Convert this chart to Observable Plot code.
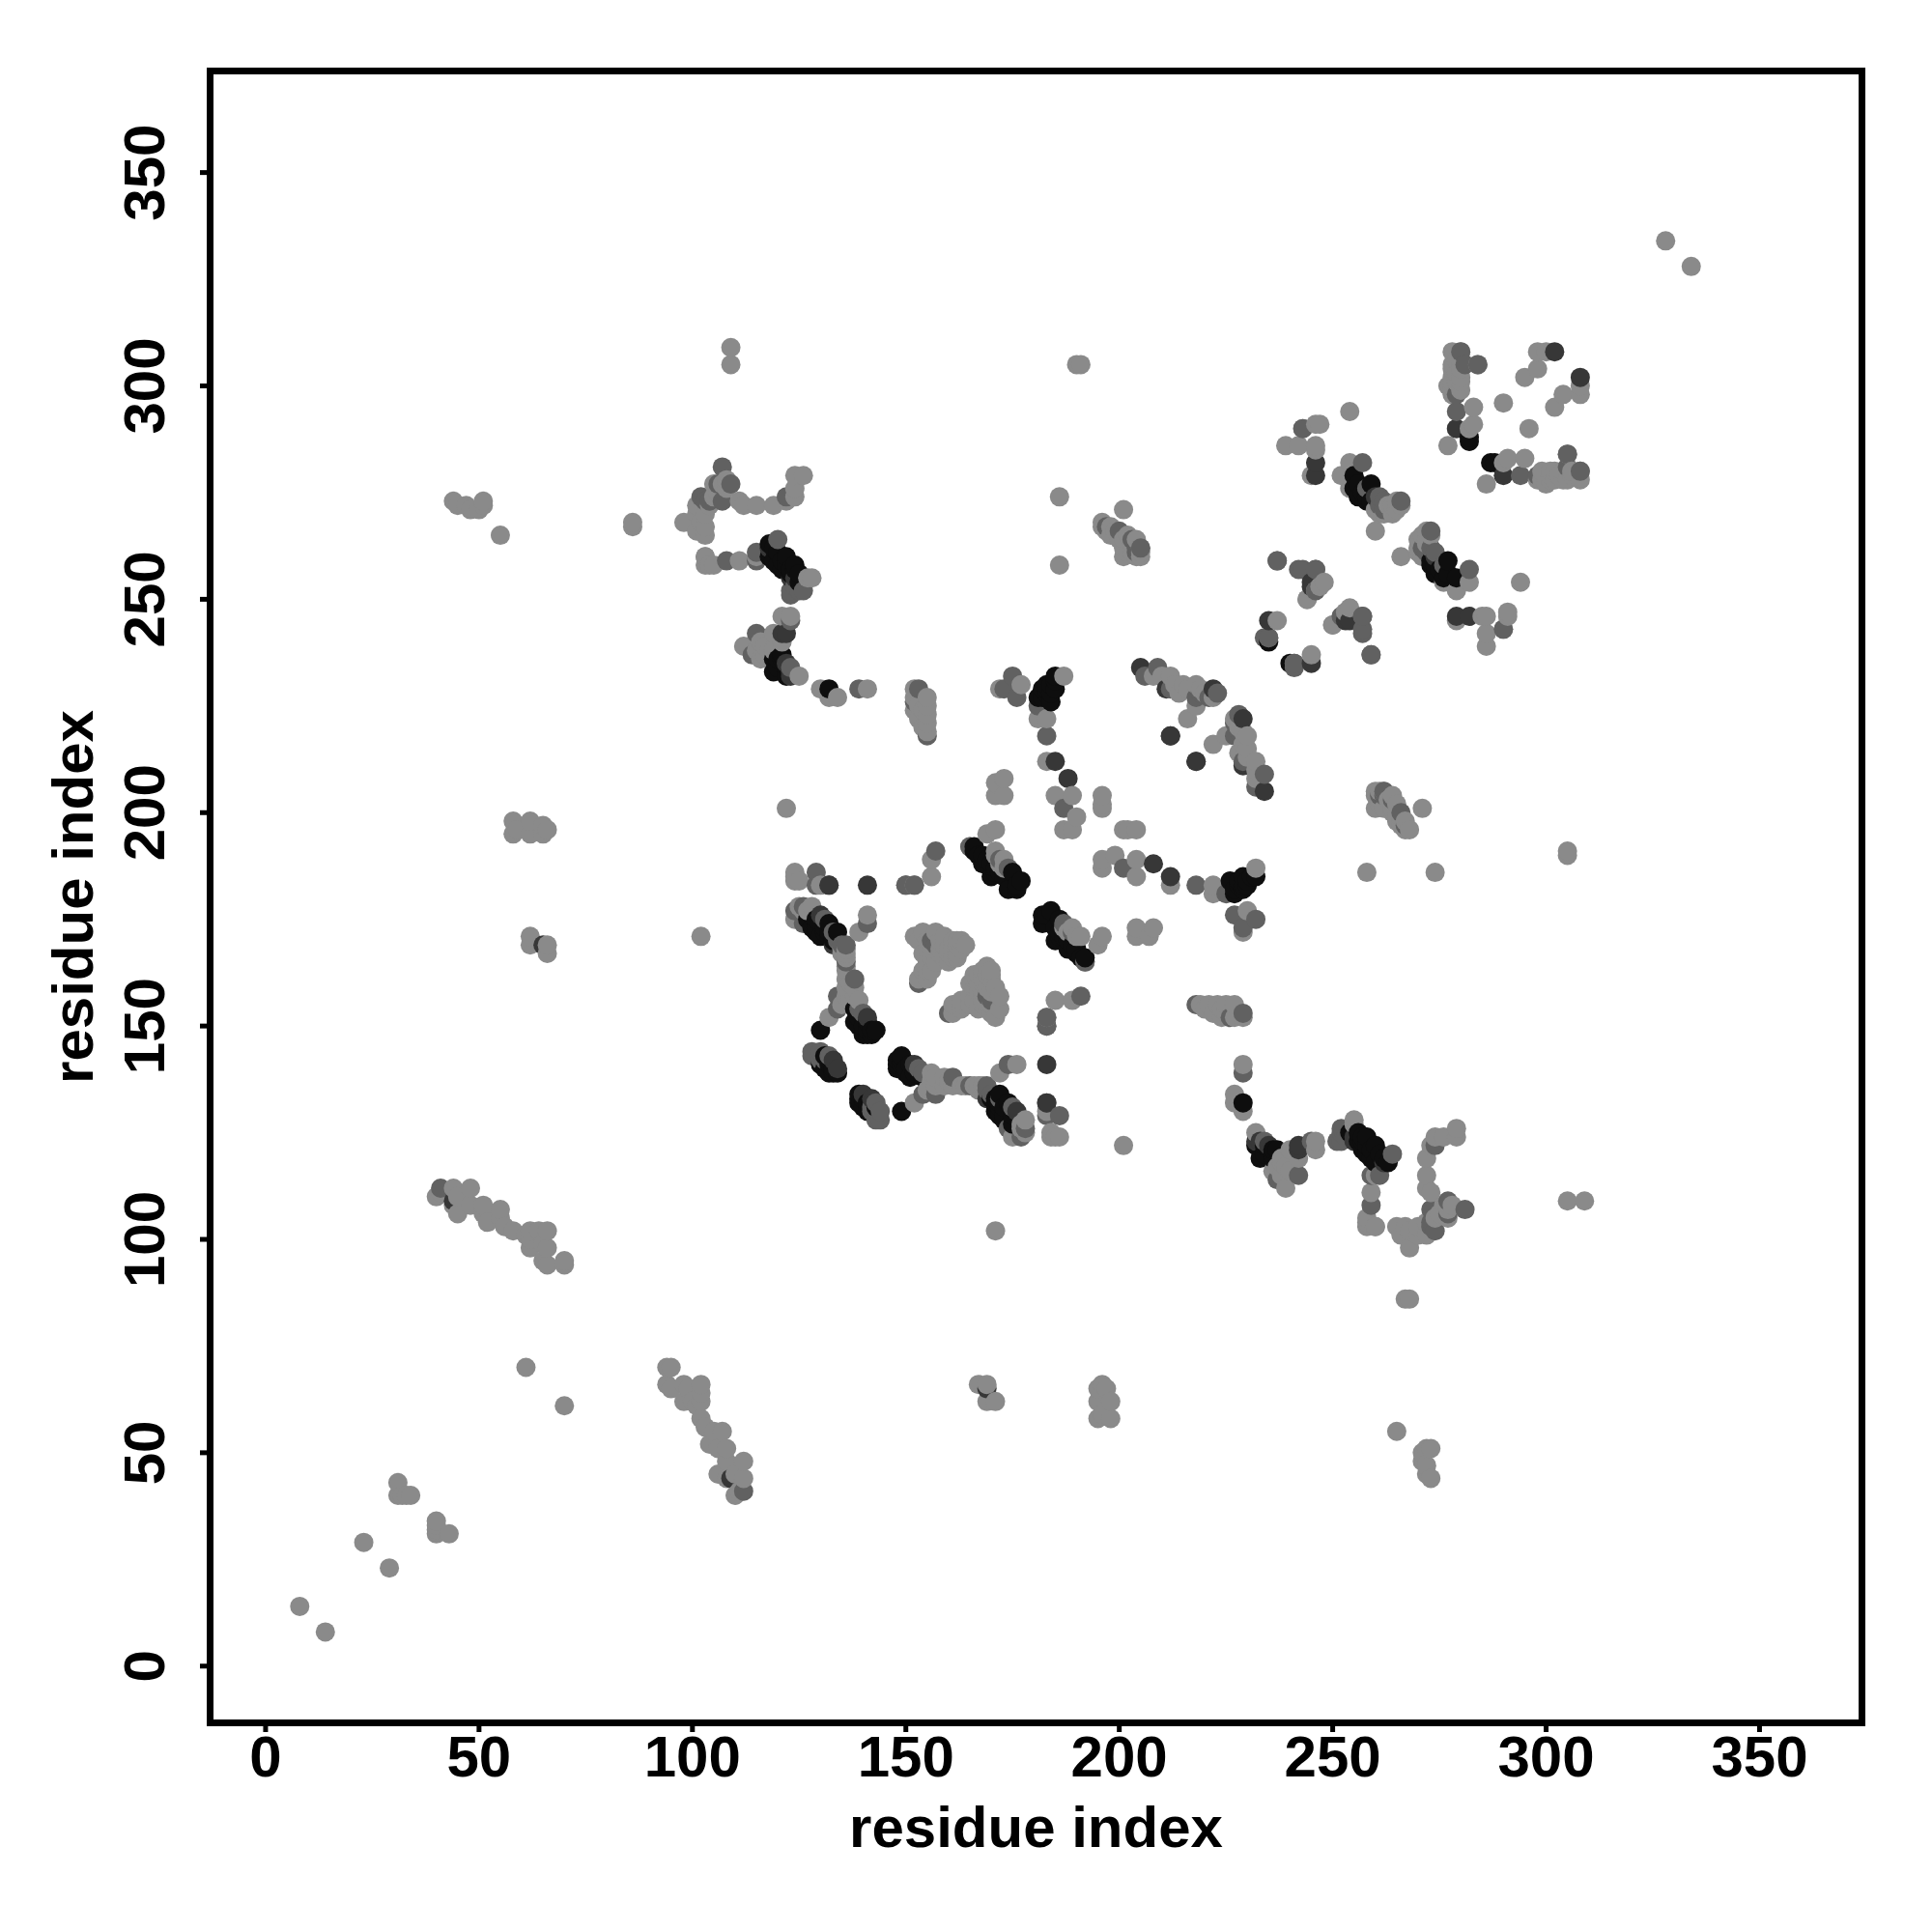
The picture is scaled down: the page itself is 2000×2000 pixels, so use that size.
<!DOCTYPE html>
<html>
<head>
<meta charset="utf-8">
<style>html,body{margin:0;padding:0;background:#fff}svg{display:block}</style>
<script src="https://cdn.jsdelivr.net/npm/d3@7"></script>
<script src="https://cdn.jsdelivr.net/npm/@observablehq/plot@0.6"></script>
</head>
<body>
<div id="chart"></div>
<script>
const axisTicks = [0, 50, 100, 150, 200, 250, 300, 350];
const axisLabel = "residue index";

// Contact pairs (a < b); a contact map holds each pair both ways.
const lightPairs = [
 [8,14],[23,29],[31,43],[31,40],[32,40],[33,40],[34,40],[61,70],[94,70],[95,70],[94,66],[95,65],[98,66],[99,65],[100,62],[98,62],[102,66],[102,64],[102,62],[101,61],[102,58],[103,56],[105,55],[107,55],[104,52],[106,51],[108,51],[108,48],[106,45],[108,44],[112,48],[110,45],[112,44],[110,40],[111,41],
 [44,273],[45,272],[47,272],[48,271],[50,271],[51,273],[51,272],[55,265],[58,198],[58,195],[59,196],[62,198],[62,195],[65,197],[65,195],[66,196],[62,171],[62,169],[66,167],[66,169],
 [86,267],[86,268],[102,171],[109,305],[109,309],[122,201],[328,334],[186,274],[186,258],[190,305],[191,305],
 [108,278],[105,277],[101,272],[101,270],[103,267],[98,268],[101,266],[103,265],[111,273],[115,272],[119,272],[122,273],[124,276],[124,279],[126,279],[103,260],[103,258],[105,258],[111,259],[115,260],[128,255],
 [103,270],[104,272],[105,274],[106,275],[107,277],[108,276],
 [121,246],[112,239],[117,239],[119,242],[116,236],[125,232],[130,229],[132,227],[134,227],[141,229],[152,229],[155,227],[155,223],[155,221],[153,222],[116,240],[118,238],[117,237],[115,238],
 [152,227],[153,225],[154,224],[155,225],[155,219],[152,224],[154,220],
 [172,229],[177,230],[181,222],[183,222],[183,212],[185,204],[189,204],[190,199],[187,196],[189,196],[196,204],[196,202],[171,207],[173,208],[171,204],[173,204],[187,232],[208,232],[212,232],[215,230],[214,228],[218,230],[218,225],[216,222],
 [210,232],[213,230],[216,229],[219,229],[220,228],[222,227],
 [169,195],[165,192],[171,191],[173,189],[124,186],[125,184],[130,183],[156,189],[156,185],[152,183],[128,178],[141,176],[139,172],[136,166],[136,164],[136,161],[138,159],[136,157],[139,156],[132,152],
 [135,167],[136,163],[136,159],[137,160],[138,157],[135,155],[137,156],[135,168],[136,167],[126,177],[127,177],
 [171,190],[172,188],[173,187],
 [152,171],[154,172],[157,172],[159,169],[154,167],[161,168],[163,170],[157,165],[155,163],[153,161],[155,161],[160,165],[164,169],[158,167],[159,171],
 [153,170],[155,170],[155,168],[156,168],[158,170],[160,168],[156,166],[155,165],[154,163],[156,163],[162,169],[163,168],[162,170],[159,166],[160,167],[161,166],[162,167],[161,170],[162,166],[158,168],
 [136,168],[125,178],[124,175],[124,184],[124,185],
 [196,267],[197,266],[198,267],[199,265],[201,271],[201,264],[202,265],[203,263],[204,264],[205,262],[205,260],[201,260],[202,261],[196,268],[198,265],[199,266],[200,264],[201,262],[203,261],[204,260],[205,261],
 [254,294],[246,291],[239,286],[242,286],[246,286],[245,279],[254,282],[252,279],[254,276],[264,270],[266,272],[260,271],[260,266],[263,272],[264,272],[265,271],[261,270],[262,270],[265,273],
 [278,308],[280,308],[278,305],[278,302],[280,302],[278,299],[283,295],[283,291],[277,286],[298,308],[300,308],[298,304],[295,302],[290,296],[279,301],[280,299],[279,306],[279,303],[280,304],[277,300],
 [282,290],[280,301],[284,305],[278,304],[278,301],[278,298],[280,306],
 [237,245],[247,253],[244,250],[250,244],[252,246],[254,248],
 [119,238],[121,240],[123,246],[127,255],[104,258],[103,260],[112,272],[124,274],[102,268],
 [246,285],[247,291],[243,290],[171,196],[196,201]
];
const midPairs = [
 [112,41],[107,281],[106,277],[102,274],[108,259],[115,261],[126,252],[123,252],[120,264],[115,259],[107,273],[109,277],[103,273],[122,274],[104,273],
 [123,245],[115,242],[114,237],[123,234],[139,229],[152,226],[153,229],[155,218],[173,229],[175,232],[176,227],[181,225],[183,218],[187,201],[206,232],[209,234],
 [218,227],[221,227],[165,192],[157,191],[150,183],[129,186],[132,183],[126,178],[141,174],[136,169],[138,161],[134,157],[134,154],[157,169],[153,160],[156,170],[136,165],
 [128,144],[130,144],[131,143],[128,143],[183,129],[124,177],[126,174],[133,172],[183,150],[183,152],[172,189],[174,187],[131,175],[134,170],[135,169],
 [212,229],[219,228],[223,228],[197,267],[200,266],[203,264],[204,262],
 [205,262],[204,261],[243,290],[257,282],[261,274],[262,273],[266,273],[279,298],[279,294],[281,305],[284,305],[280,308],[243,257],[246,257],[237,259],[246,252],[257,246],[257,242],[259,237],[241,235],[241,234],[235,241],
 [258,276],[261,272],[262,271],[124,253],[125,252],[123,251],[130,142],[132,143],[131,142],[140,153],[139,154]
];
const darkPairs = [
 [109,44],[65,169],[124,255],[123,255],[122,235],[123,233],[118,262],[205,234],[211,229],[212,218],[218,212],[188,208],[185,212],[222,229],
 [130,176],[133,169],[133,142],[134,140],[141,152],[141,183],[183,132],
 [246,282],[246,279],[260,274],[279,290],[302,308],[245,253],[254,245],[235,245],[123,232],[122,242],[121,242]
];
const blackPairs = [
 [118,263],[118,260],[120,258],[122,260],[124,258],[123,256],[119,259],[119,262],[121,237],[120,234],[119,236],[122,232],[132,229],[181,227],[183,230],[185,232],[185,229],[182,227],[184,226],
 [183,228],[184,228],[185,231],[183,229],[182,229],[184,230],
 [166,192],[168,190],[168,188],[169,189],[170,185],[171,186],[175,186],[177,184],[174,182],[176,182],[166,191],[167,190],[170,188],[171,187],[172,186],[173,185],
 [129,173],[130,171],[132,174],[134,172],[128,173],[138,154],[138,151],[130,149],[140,148],[143,149],[142,148],[139,150],[141,149],[140,150],[142,149],[139,152],[141,148],[141,151],
 [130,141],[132,139],[131,143],[133,139],[132,172],[129,172],[131,173],[133,171],[127,175],[129,175],[131,172],[132,171],[133,170],[131,140],[132,141],[133,140],[134,139],
 [255,279],[259,277],[256,274],[258,273],[255,276],[256,277],[257,275],[258,274],[259,273],
 [282,288],[282,287],[121,257],[124,257],[119,233],[121,236],[235,240],[176,183],[120,261],[121,259],[122,258],[123,257],[125,256],[125,254],[120,236],[122,234]
];

const shadeOf = (pairs, shade) => pairs.flatMap(([a, b]) => [{x: a, y: b, shade}, {x: b, y: a, shade}]);
const contacts = d3.sort(
  [...shadeOf(lightPairs, 0), ...shadeOf(midPairs, 1), ...shadeOf(darkPairs, 2), ...shadeOf(blackPairs, 3)],
  d => d.x, d => d.y
);

const chart = Plot.plot({
  width: 2000, height: 2000,
  marginLeft: 217, marginRight: 73, marginTop: 73, marginBottom: 217,
  style: {fontFamily: "'Liberation Sans', sans-serif", fontWeight: "bold", background: "#fff", color: "#000"},
  x: {domain: [-13, 374]},
  y: {domain: [-13.3, 373.8]},
  color: {type: "linear", domain: [0, 3], range: ["#8a8a8a", "#0e0e0e"]},
  marks: [
    Plot.dot(contacts, {x: "x", y: "y", r: 10, fill: "shade", stroke: "none"}),
    Plot.frame({stroke: "#000", strokeWidth: 7}),
    Plot.axisX({ticks: axisTicks, tickSize: 10, strokeWidth: 5, tickPadding: 3, fontSize: 60, fontWeight: "bold",
      fill: "#000", label: axisLabel, labelAnchor: "center", labelArrow: "none", labelOffset: 128}),
    Plot.axisY({ticks: axisTicks, tickSize: 10, strokeWidth: 5, tickPadding: 38, fontSize: 60, fontWeight: "bold",
      fill: "#000", tickRotate: -90, textAnchor: "middle", label: axisLabel, labelAnchor: "center", labelArrow: "none", labelOffset: 164})
  ]
});
document.getElementById("chart").appendChild(chart);
</script>
</body>
</html>
